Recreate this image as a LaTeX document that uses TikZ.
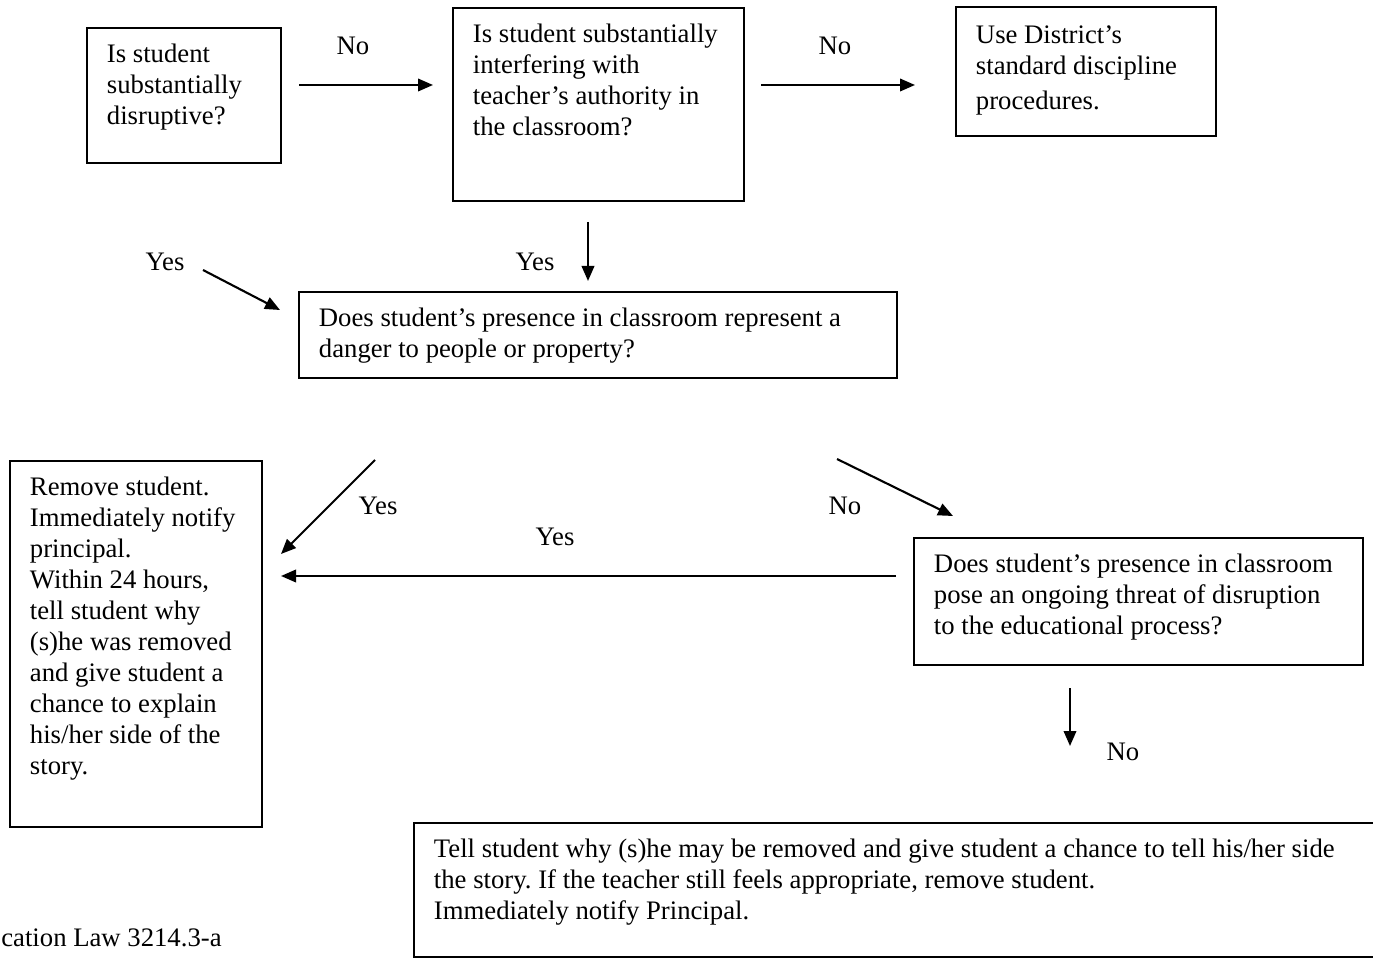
\documentclass[tikz,border=0pt]{standalone}
\usepackage{fontspec}
\setmainfont{Liberation Serif}
\usepackage{tikz}
\usetikzlibrary{arrows.meta}

\newlength\pxu
\setlength\pxu{0.02cm}
\newcommand\boxtxt[3]{\parbox[b][#2\pxu][t]{#1\pxu}{\raggedright #3}}
\frenchspacing

\begin{document}
\begin{tikzpicture}[x=0.02cm, y=-0.02cm,
  font=\fontsize{15.2pt}{17.64pt}\selectfont,
  qbox/.style={draw, line width=1.1pt, anchor=north west, inner xsep=0.4cm, inner ysep=0.32cm},
  lbl/.style={inner sep=0pt},
  arr/.style={-{Triangle[length=0.3cm,width=0.25cm]}, line width=1.2pt}]
\useasboundingbox (0,0) rectangle (1373,962);

% question and action boxes
\node[qbox] (disrupt) at (86,27) {\boxtxt{154}{103}{Is student\\ substantially\\ disruptive?}};
\node[qbox] (interfere) at (452,7) {\boxtxt{251}{161}{Is student substantially\\ interfering with\\ teacher's authority in\\ the classroom?}};
\node[qbox] (standard) at (955,6) {\boxtxt{220}{97}{\vspace*{3\pxu}Use District's\\ standard discipline\\[4\pxu] procedures.}};
\node[qbox] (danger) at (298,291) {\boxtxt{558}{54}{Does student's presence in classroom represent a\\ danger to people or property?}};
\node[qbox] (remove) at (9,460) {\boxtxt{212}{334}{Remove student.\\ Immediately notify\\ principal.\\ Within 24 hours,\\ tell student why\\ (s)he was removed\\ and give student a\\ chance to explain\\ his/her side of the\\ story.}};
\node[qbox] (threat) at (913,537) {\boxtxt{409}{95}{Does student's presence in classroom\\ pose an ongoing threat of disruption\\ to the educational process?}};
\node[qbox] (tell) at (413,822) {\boxtxt{960}{102}{Tell student why (s)he may be removed and give student a chance to tell his/her side\\ the story. If the teacher still feels appropriate, remove student.\\ Immediately notify Principal.}};

% arrow ends
\coordinate (no1s) at (299,85);  \coordinate (no1t) at (433,85);
\coordinate (no2s) at (761,85);  \coordinate (no2t) at (915,85);
\coordinate (yes1s) at (203,270); \coordinate (yes1t) at (280,310);
\coordinate (yes2s) at (588,222); \coordinate (yes2t) at (588,281);
\coordinate (yes3s) at (375,460); \coordinate (yes3t) at (281,554);
\coordinate (no3s) at (837,459);  \coordinate (no3t) at (953,516);
\coordinate (yes4s) at (896,576); \coordinate (yes4t) at (281,576);
\coordinate (no4s) at (1070,688); \coordinate (no4t) at (1070,746);

\draw[arr] (no1s) -- (no1t);
\draw[arr] (no2s) -- (no2t);
\draw[arr] (yes1s) -- (yes1t);
\draw[arr] (yes2s) -- (yes2t);
\draw[arr] (yes3s) -- (yes3t);
\draw[arr] (no3s) -- (no3t);
\draw[arr] (yes4s) -- (yes4t);
\draw[arr] (no4s) -- (no4t);

% answers
\node[lbl] (nolbl1) at (353,46) {No};
\node[lbl] (nolbl2) at (835,46) {No};
\node[lbl] (yeslbl1) at (165,262) {Yes};
\node[lbl] (yeslbl2) at (535,262) {Yes};
\node[lbl] (yeslbl3) at (378,506) {Yes};
\node[lbl] (nolbl3) at (845,506) {No};
\node[lbl] (yeslbl4) at (555,537) {Yes};
\node[lbl] (nolbl4) at (1123,752) {No};

\node[lbl, anchor=west] (law) at (1,938) {cation Law 3214.3-a};
\end{tikzpicture}
\end{document}
